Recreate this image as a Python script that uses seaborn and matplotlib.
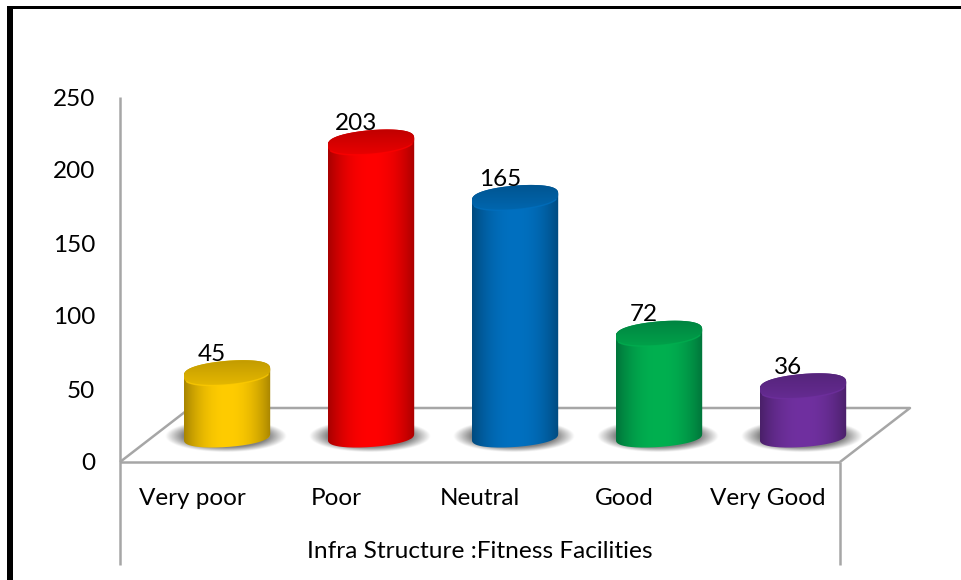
import numpy as np
import matplotlib
matplotlib.use('Agg')
import matplotlib.pyplot as plt
import matplotlib.transforms as mtrans
from matplotlib.lines import Line2D
from matplotlib.patches import PathPatch, Rectangle
from matplotlib.path import Path
import seaborn as sns

# chart values
categories = ['Very poor', 'Poor', 'Neutral', 'Good', 'Very Good']
counts = [45, 203, 165, 72, 36]
y_ticks = [0, 50, 100, 150, 200, 250]
x_title = 'Infra Structure :Fitness Facilities'

# bright middle, dark edge, cap back, cap front per cylinder
bar_colors = ['#ffcc00', '#ff0000', '#0070c0', '#00b050', '#7030a0']
edge_colors = ['#a88500', '#a80000', '#004a7f', '#00743a', '#4a2069']
cap_back = ['#bd9700', '#bd0000', '#00538e', '#008241', '#532378']
cap_front = ['#e8ba00', '#ee0000', '#0068b2', '#00a44a', '#672c94']

W, H = 962, 580
GREY = '#a6a6a6'

sns.set_theme(style='white')
plt.rcParams['font.family'] = ['Lato', 'DejaVu Sans']

fig = plt.figure(figsize=(W / 100, H / 100), dpi=100)
ax = fig.add_axes([120 / W, 1 - 462 / H, 720 / W, 365 / H])
ax.patch.set_visible(False)

sns.barplot(x=categories, y=counts, hue=categories, palette=bar_colors, width=0.6,
            legend=False, ax=ax, zorder=3, linewidth=0)
ax.set_xlim(-0.5, 4.5)
ax.set_ylim(0, 250)
ax.set_yticks(y_ticks)
ax.tick_params(axis='both', length=0, labelsize=17.5, colors='black')
ax.tick_params(axis='x', pad=18.5)
ax.tick_params(axis='y', pad=18)
ax.set_xlabel(x_title, fontsize=17.6, color='black', labelpad=23)
ax.set_ylabel('')
for s in ax.spines.values():
    s.set_visible(False)


def hex_rgb(c):
    return np.array(matplotlib.colors.to_rgb(c))


def fig_line(xs, ys, color=GREY, lw=1.8, zorder=-1):
    fig.add_artist(Line2D(np.array(xs) / W, 1 - np.array(ys) / H, color=color, lw=lw,
                          zorder=zorder, solid_capstyle='butt'))


def ring(a, xc, yc, rx, ry, tilt, p=0.72):
    # tilted ellipse with rounder shoulders than a true ellipse
    s, c = np.sin(a), np.cos(a)
    return xc + rx * c, yc + ry * np.sign(s) * np.abs(s) ** p + tilt * c


# 3d floor and the axis lines
fig_line([120, 120], [97, 565])
fig_line([840, 840], [462, 565])
fig_line([120, 840], [462, 462])
fig_line([120, 190, 910, 840], [462, 408, 408, 462])

# depth shift of the cylinders, in pixels
shift = mtrans.ScaledTranslation(35 / 100, 23.5 / 100, fig.dpi_scale_trans)
tr = ax.transData + shift
label_tr = ax.transData + mtrans.ScaledTranslation(20 / 100, 42 / 100, fig.dpi_scale_trans)
px_y = 250 / 365  # data units per pixel, y
cap_ry = 12 * px_y
cap_tilt = 3.5 * px_y
base_c = 2.5 * px_y
base_ry = 11 * px_y
base_tilt = 3 * px_y

t = np.linspace(0, np.pi, 80)
for i, bar in enumerate(ax.patches):
    x0, w, top = bar.get_x(), bar.get_width(), bar.get_height()
    xc = x0 + w / 2
    rx = w / 2

    # blurred floor shadow
    sx = np.linspace(-1.6, 1.6, 200)
    sy = np.linspace(-1.6, 1.6, 100)
    gx, gy = np.meshgrid(sx, sy)
    d = np.sqrt(gx ** 2 + gy ** 2)
    alpha = np.clip((1.3 - d) / 0.4, 0, 1) * 0.85
    rgba = np.zeros(d.shape + (4,))
    rgba[..., :3] = 0.42
    rgba[..., 3] = alpha
    s_rx, s_ry = rx * 1.08, 12.5 * px_y
    shadow = ax.imshow(rgba, aspect='auto', origin='lower', zorder=2, transform=tr, interpolation='bilinear',
                       extent=[xc - 1.6 * s_rx - 0.01, xc + 1.6 * s_rx - 0.01,
                               base_c - 1.6 * s_ry, base_c + 1.6 * s_ry])
    shadow.set_clip_box(fig.bbox)

    # body outline: upper arc of the top, lower arc of the base
    top_x, top_y = ring(t, xc, top, rx, cap_ry, cap_tilt)
    low_x, low_y = ring(t + np.pi, xc, base_c, rx, base_ry, base_tilt)
    outline = PathPatch(Path(np.c_[np.r_[top_x, low_x], np.r_[top_y, low_y]]), transform=tr, visible=False)
    ax.add_patch(outline)

    bar.set_transform(tr)
    bar.set_clip_path(outline)
    bar.set_clip_box(fig.bbox)

    # left to right shading of the body
    u = np.linspace(-1, 1, 120)
    mix = np.abs(u) ** 2.2
    body = (1 - mix)[:, None] * hex_rgb(bar_colors[i]) + mix[:, None] * hex_rgb(edge_colors[i])
    im = ax.imshow(body[None, :, :], aspect='auto', zorder=4, transform=tr, interpolation='bilinear',
                   extent=[x0, x0 + w, base_c - base_ry - 8 * px_y, top + cap_ry + 8 * px_y])
    im.set_clip_path(outline)
    im.set_clip_box(fig.bbox)

    # top cap, with a light rim along the front
    v = np.linspace(0, 1, 60)
    cap = (1 - v)[:, None] * hex_rgb(cap_front[i]) + v[:, None] * hex_rgb(cap_back[i])
    xs, ys = ring(2 * t, xc, top, rx, cap_ry, cap_tilt)
    cap_patch = PathPatch(Path(np.c_[xs, ys]), transform=tr, visible=False)
    ax.add_patch(cap_patch)
    im2 = ax.imshow(cap[:, None, :], aspect='auto', origin='lower', zorder=5, transform=tr, interpolation='bilinear',
                    extent=[x0, x0 + w, top - cap_ry - cap_tilt, top + cap_ry + cap_tilt])
    im2.set_clip_path(cap_patch)
    im2.set_clip_box(fig.bbox)
    ax.plot(xs[44:76], ys[44:76], color=bar_colors[i], lw=1.0, alpha=0.7, transform=tr, zorder=6, clip_on=False)

    # value label
    ax.text(xc, top, str(counts[i]), ha='center', va='center', fontsize=17.5, color='black',
            transform=label_tr, zorder=7)

ax.set_xlim(-0.5, 4.5)
ax.set_ylim(0, 250)

# black frame, open on the right and at the bottom
fig.add_artist(Rectangle((7.5 / W, 0), 5 / W, 1 - 6 / H, transform=fig.transFigure,
                         facecolor='black', edgecolor='none', zorder=10))
fig.add_artist(Rectangle((7.5 / W, 1 - 9 / H), 1 - 7.5 / W, 3.4 / H, transform=fig.transFigure,
                         facecolor='black', edgecolor='none', zorder=10))

fig.savefig('out.png', dpi=100)
